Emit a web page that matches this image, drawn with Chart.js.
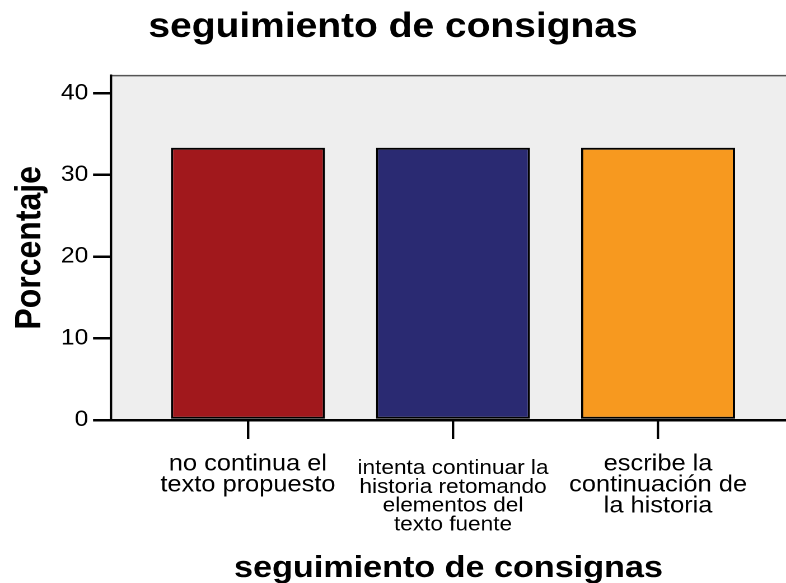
<!DOCTYPE html>
<html>
<head>
<meta charset="utf-8">
<script src="https://cdn.jsdelivr.net/npm/chart.js@4"></script>
<style>
  html, body { margin: 0; padding: 0; background: #ffffff; overflow: hidden; }
</style>
</head>
<body>
<canvas id="c" width="702" height="583" style="display:block;width:786px;height:583px;"></canvas>
<script>
// ---- data ----
const chartTitle = 'seguimiento de consignas';
const yAxisTitle = 'Porcentaje';
const xAxisTitle = 'seguimiento de consignas';
const categories = [
  'no continua el texto propuesto',
  'intenta continuar la historia retomando elementos del texto fuente',
  'escribe la continuación de la historia'
];
const categoryLabelLines = [
  ['no continua el', 'texto propuesto'],
  ['intenta continuar la', 'historia retomando', 'elementos del', 'texto fuente'],
  ['escribe la', 'continuación de', 'la historia']
];
const percentages = [33.33, 33.33, 33.33];
const barColors = ['#a1181c', '#2a2a72', '#f7991f'];
// the long (4-line) label is set in smaller type and starts a little lower
const smallLabelIndex = 1;

const FONT = "'Liberation Sans', Arial, sans-serif";

const plotBackground = {
  id: 'plotBackground',
  beforeDraw(chart) {
    const { ctx, chartArea: a } = chart;
    ctx.save();
    ctx.fillStyle = '#eeeeee';
    ctx.fillRect(a.left, a.top, a.right - a.left, a.bottom - a.top);
    ctx.strokeStyle = '#555555';
    ctx.lineWidth = 1.5;
    ctx.beginPath();
    ctx.moveTo(a.left, a.top);
    ctx.lineTo(a.right, a.top);
    ctx.stroke();
    ctx.restore();
  }
};

const X_MIN = -0.668, X_MAX = 2.624;

const canvas = document.getElementById('c');
new Chart(canvas, {
  type: 'bar',
  data: {
    datasets: [{
      data: categories.map((c, i) => ({ x: i, y: percentages[i] })),
      backgroundColor: barColors,
      borderColor: '#000000',
      borderWidth: 2,
      borderSkipped: false,
      categoryPercentage: 1,
      barPercentage: 0.751
    }]
  },
  options: {
    responsive: false,
    animation: false,
    devicePixelRatio: 2,
    layout: { padding: 0 },
    plugins: {
      legend: { display: false },
      tooltip: { enabled: false },
      title: {
        display: true,
        text: chartTitle,
        color: '#000000',
        font: { family: FONT, size: 34.8, weight: 'bold', lineHeight: 1.2 },
        padding: { top: 6.4, bottom: 27.5 }
      }
    },
    scales: {
      x: {
        type: 'linear',
        min: X_MIN,
        max: X_MAX,
        offset: false,
        afterFit: (s) => { s.height = 163; },
        border: { display: true, color: '#000000', width: 2.5 },
        grid: { display: true, offset: false, drawOnChartArea: false, drawTicks: true, tickLength: 19, color: '#000000', lineWidth: 2.2 },
        ticks: {
          stepSize: 1,
          includeBounds: false,
          autoSkip: false,
          maxRotation: 0,
          minRotation: 0,
          padding: 14.7,
          color: '#000000',
          font: { family: FONT, size: 22.7, lineHeight: 0.925 },
          callback: (v) => (Number.isInteger(v) && v !== smallLabelIndex && categoryLabelLines[v]) ? categoryLabelLines[v] : ''
        },
        title: {
          display: true,
          text: xAxisTitle,
          color: '#000000',
          font: { family: FONT, size: 30.5, weight: 'bold', lineHeight: 0.95 },
          padding: { top: 0, bottom: 0 }
        }
      },
      x2: {
        type: 'linear',
        position: { y: 0 },
        min: X_MIN,
        max: X_MAX,
        offset: false,
        border: { display: false },
        grid: { display: false, drawOnChartArea: false, drawTicks: false },
        ticks: {
          stepSize: 1,
          includeBounds: false,
          autoSkip: false,
          maxRotation: 0,
          minRotation: 0,
          padding: 38.7,
          color: '#000000',
          font: { family: FONT, size: 20.2, lineHeight: 0.94 },
          callback: (v) => (v === smallLabelIndex) ? categoryLabelLines[v] : ''
        }
      },
      y: {
        min: 0,
        max: 42.16,
        afterFit: (s) => { s.width = 99.1; },
        border: { display: true, color: '#000000', width: 2.2 },
        grid: { display: true, drawOnChartArea: false, drawTicks: true, tickLength: 16, color: '#000000', lineWidth: 2.5 },
        ticks: {
          stepSize: 10,
          includeBounds: false,
          padding: 4.2,
          color: '#000000',
          font: { family: FONT, size: 22 }
        },
        title: {
          display: true,
          text: yAxisTitle,
          color: '#000000',
          font: { family: FONT, size: 32, weight: 'bold', lineHeight: 1.2 },
          padding: { top: 8, bottom: 0 }
        }
      }
    }
  },
  plugins: [plotBackground]
});
</script>
</body>
</html>
